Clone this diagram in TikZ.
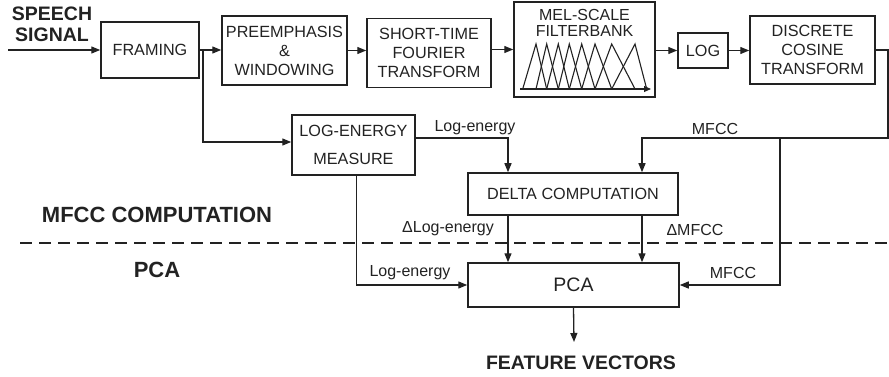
\documentclass[tikz,border=0pt]{standalone}
\usepackage{fontspec}
\setmainfont{Liberation Sans}
\usetikzlibrary{arrows.meta}
\definecolor{ink}{HTML}{222222}
\begin{document}
\begin{tikzpicture}[x=1pt,y=-1pt,
  box/.style={draw=ink,line width=1.5pt,inner sep=0pt,align=center,text=ink,
    font=\fontsize{16.2}{19}\selectfont},
  wire/.style={draw=ink,line width=1.3pt},
  arr/.style={draw=ink,line width=1.3pt,-{Triangle[length=9pt,width=7pt]}},
  lbl/.style={text=ink,inner sep=0pt,font=\fontsize{16}{19}\selectfont},
  title/.style={text=ink,inner sep=0pt,align=center,font=\bfseries\fontsize{19.5}{21}\selectfont},
  section/.style={text=ink,inner sep=0pt,font=\bfseries\fontsize{22}{24}\selectfont}]
\useasboundingbox (0,0) rectangle (889,377);

% ---- processing blocks ----
\node[box,minimum width=98pt,minimum height=56pt]  (framing) at (150,50)   {FRAMING};
\node[box,minimum width=125pt,minimum height=69pt] (preemph) at (284.5,50.5) {PREEMPHASIS\\\&\\WINDOWING};
\node[box,minimum width=124pt,minimum height=69pt] (stft)    at (429,53)   {SHORT-TIME\\FOURIER\\TRANSFORM};
\node[box,minimum width=141pt,minimum height=95pt] (mel)     at (584.5,49.5) {};
\node[box,minimum width=50pt,minimum height=35pt]  (log)     at (703,50.5) {LOG};
\node[box,minimum width=125pt,minimum height=68pt] (dct)     at (812.5,50) {DISCRETE\\COSINE\\TRANSFORM};
\node[box,minimum width=123pt,minimum height=60pt,font=\fontsize{16.2}{28}\selectfont]
      (logE) at (353.5,145) {LOG-ENERGY\\MEASURE};
\node[box,minimum width=210pt,minimum height=42pt] (delta)   at (573,194)  {DELTA COMPUTATION};
\node[box,minimum width=211pt,minimum height=44pt,font=\fontsize{19.5}{21}\selectfont]
      (pca) at (573.5,285) {PCA};

% filterbank inset
\node[lbl] (meltxt) at (584.5,24.5) {\begin{tabular}{@{}c@{}}MEL-SCALE\\[-3pt]FILTERBANK\end{tabular}};
\draw[ink,line width=1.1pt,-{Triangle[length=7pt,width=6pt]}] (520,89) -- (651,89);
\foreach \a/\b/\c in {522.7/536/546.7, 536/546.7/558.3, 546.7/558.3/569.3,
                      558.3/569.3/581.7, 569.3/581.7/595, 581.7/595/611.7,
                      595/611.7/635, 611.7/635/646.7}
  \draw[ink,line width=1.1pt] (\a,89) -- (\b,44) -- (\c,89);

% ---- titles and section names ----
\node[title] (speech) at (52,24.5) {SPEECH\\SIGNAL};
\node[section] (secA) at (157,215) {MFCC COMPUTATION};
\node[section] (secB) at (157,270) {PCA};
\node[title] (feat) at (581,363) {FEATURE VECTORS};

% ---- free ends and junctions ----
\coordinate (in)   at (8,50);
\coordinate (br)   at (203,50);
\coordinate (eTop) at (888,50);
\coordinate (eMid) at (888,138);
\coordinate (mj)   at (780,138);
\coordinate (out)  at (574,342);
\coordinate (dl)   at (508,0);
\coordinate (dm)   at (642,0);

% section divider
\draw[ink,line width=2.6pt,dash pattern=on 12pt off 7pt] (20,243) -- (889,243);

% ---- main chain ----
\draw[arr] (in) -- (framing.west);
\draw[arr] (framing.east) -- (framing.east -| preemph.west);
\draw[arr] (preemph.east) -- (preemph.east -| stft.west);
\draw[arr] (stft.east |- mel.west) -- (mel.west);
\draw[arr] (mel.east |- log.west) -- (log.west);
\draw[arr] (log.east) -- (log.east -| dct.west);
\draw[wire] (dct.east) -- (eTop) -- (eMid) -- (mj);

% ---- log-energy branch ----
\draw[arr] (br) |- ([yshift=3pt]logE.west);
\draw[arr] ([yshift=7pt]logE.east) -| (dl |- delta.north);
\draw[arr] ([xshift=3pt]logE.south) |- (pca.west);

% ---- MFCC branch ----
\draw[arr] (mj) -| (dm |- delta.north);
\draw[arr] (mj) |- (pca.east);

% ---- delta outputs ----
\draw[arr] (dl |- delta.south) -- (dl |- pca.north);
\draw[arr] (dm |- delta.south) -- (dm |- pca.north);

% output
\draw[arr] (pca.south) -- (out);

% ---- connector labels ----
\node[lbl] (l1) at (475,128) {Log-energy};
\node[lbl] (l2) at (715,129) {MFCC};
\node[lbl] (l3) at (448,229) {ΔLog-energy};
\node[lbl] (l4) at (695,230) {ΔMFCC};
\node[lbl] (l5) at (410,273) {Log-energy};
\node[lbl] (l6) at (733,273) {MFCC};
\end{tikzpicture}
\end{document}
